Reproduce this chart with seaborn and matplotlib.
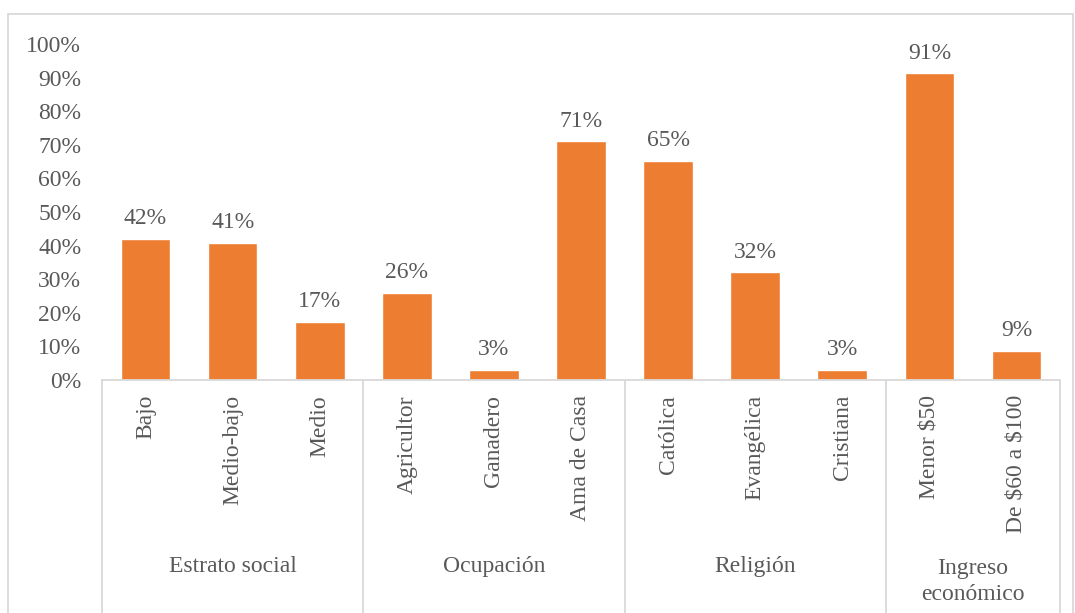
import pandas as pd
import matplotlib.pyplot as plt
import seaborn as sns
from matplotlib.patches import Rectangle
from matplotlib.ticker import PercentFormatter

sns.set_theme(style='white')
plt.rcParams['font.family'] = ['Liberation Serif', 'DejaVu Serif']
plt.rcParams['text.parse_math'] = False

# datos
categorias = ['Bajo', 'Medio-bajo', 'Medio', 'Agricultor', 'Ganadero', 'Ama de Casa',
              'Católica', 'Evangélica', 'Cristiana', 'Menor $50', 'De $60 a $100']
valores = [0.42, 0.408, 0.174, 0.26, 0.03, 0.71, 0.652, 0.32, 0.03, 0.913, 0.086]
grupos = ['Estrato social', 'Ocupación', 'Religión', 'Ingreso\neconómico']
tam_grupos = [3, 3, 3, 2]

df = pd.DataFrame({'categoria': categorias, 'valor': valores})

gris = '#595959'
naranja = '#ED7D31'
linea = '#D9D9D9'
fs = 17

fig = plt.figure(figsize=(10.75, 6.13), dpi=100)
ax = fig.add_axes([102 / 1075, 1 - 380 / 613, (1060 - 102) / 1075, (380 - 44) / 613])

sns.barplot(data=df, x='categoria', y='valor', order=categorias, color=naranja,
            saturation=1, width=0.57, ax=ax)

ax.set_ylim(0, 1)
ax.set_xlim(-0.5, len(categorias) - 0.5)
ax.set_yticks([i / 10 for i in range(11)])
ax.yaxis.set_major_formatter(PercentFormatter(1.0, decimals=0))
ax.tick_params(axis='y', length=0, pad=15, labelsize=fs, labelcolor=gris)
ax.set_xticks([])
ax.set_xlabel('')
ax.set_ylabel('')
for s in ['top', 'right', 'left']:
    ax.spines[s].set_visible(False)
ax.spines['bottom'].set_color(linea)
ax.spines['bottom'].set_linewidth(1.3)

# etiquetas de valor
for cont in ax.containers:
    ax.bar_label(cont, labels=[f'{v:.0%}' for v in valores], padding=7,
                 fontsize=fs, color=gris)

# etiquetas de categoria
trans = ax.get_xaxis_transform()
for i, c in enumerate(categorias):
    ax.text(i, -0.045, c, rotation=90, ha='center', va='top', fontsize=fs,
            color=gris, transform=trans)

# separadores y nombres de grupo
inicio = -0.5
ax.plot([inicio, inicio], [0, -0.7], color=linea, lw=1.3, transform=trans, clip_on=False)
for g, n in zip(grupos, tam_grupos):
    fin = inicio + n
    ax.plot([fin, fin], [0, -0.7], color=linea, lw=1.3, transform=trans, clip_on=False)
    yy = -0.6 if '\n' in g else -0.556
    ax.text((inicio + fin) / 2, yy, g, ha='center', va='center', fontsize=fs,
            color=gris, transform=trans, linespacing=1.3)
    inicio = fin

# borde exterior del grafico
fig.patches.append(Rectangle((8 / 1075, -0.1), (1073 - 8) / 1075, 1.1 - 14 / 613,
                             transform=fig.transFigure, fill=False,
                             edgecolor=linea, lw=1.3))

fig.savefig('out.png', dpi=100)
